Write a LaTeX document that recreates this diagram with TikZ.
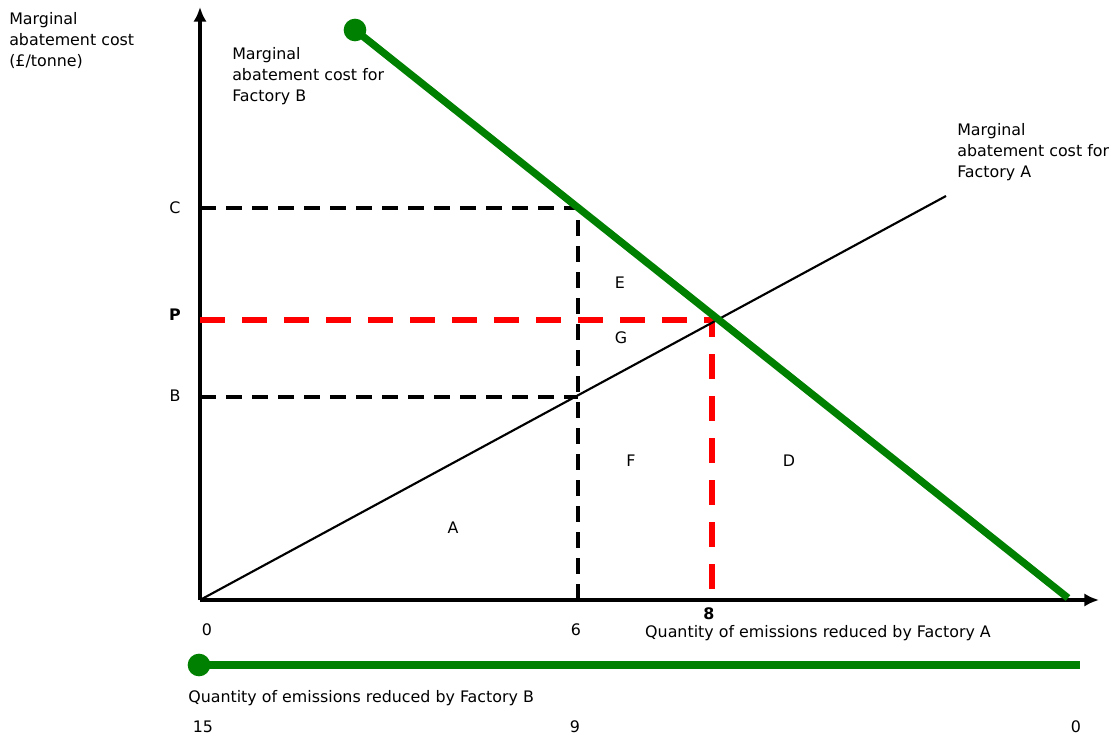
\documentclass[tikz,border=0pt]{standalone}
\usepackage{fontspec}
\setmainfont{DejaVu Sans}
\usetikzlibrary{arrows,arrows.meta,calc,positioning}
\definecolor{factgreen}{RGB}{0,128,0}
\tikzset{
        axis/.style = {draw, line width=3pt, -{Latex[length=11pt,width=10pt]}},
        macB/.style = {draw=factgreen, line width=5.5pt},
        macA/.style = {draw, line width=1.6pt},
        guide/.style = {draw, line width=2.6pt, dash pattern=on 12pt off 7.5pt},
        price/.style = {draw=red, line width=4pt, dash pattern=on 19pt off 12.5pt},
        lbl/.style = {font=\fontsize{11.9}{15.75}\selectfont, inner sep=0pt},
        note/.style = {lbl, align=left, anchor=north west},
        gdot/.style = {circle, fill=factgreen, minimum size=17pt, inner sep=0pt},
    }

\begin{document}
\begin{tikzpicture}[x=0.75pt,y=-0.75pt]
    \useasboundingbox (0,0) rectangle (1113,738);

    % axes
    \coordinate (o) at (200,600);
    \coordinate (ytop) at (200,7);
    \coordinate (xend) at (1099,600);
    \coordinate (c) at (200,208);
    \coordinate (p) at (200,320);
    \coordinate (b) at (200,397);
    \coordinate (c6) at (578,208);
    \coordinate (b6) at (578,397);
    \coordinate (x6) at (578,600);
    \coordinate (p8) at (712,320);
    \coordinate (x8) at (712,600);
    \coordinate (aend) at (946,196);
    \coordinate (bend) at (1068,598);
    \node[gdot] (btop) at (355,30) {};
    \node[gdot] (bleft) at (199,665) {};
    \coordinate (bright) at (1080,665);

    \draw[axis] (o) -- (ytop);
    \draw[axis] (o) -- (xend);

    % dashed guides
    \draw[guide] (c) -- (c6) -- (x6);
    \draw[guide] (b) -- (b6);
    \draw[price] (p) -- (p8) -- (x8);

    % marginal abatement cost curves
    \draw[macA] (o) -- (aend);
    \draw[macB] (btop.center) -- (bend);
    \draw[macB] (bleft.center) -- (bright);

    % axis labels
    \node[note] (ylab) at (9,12) {Marginal\\abatement cost\\(£/tonne)};
    \node[note] (labB) at (232,47) {Marginal\\abatement cost for\\Factory B};
    \node[note] (labA) at (957,123) {Marginal\\abatement cost for\\Factory A};
    \node[lbl] (lc) at (175,208) {C};
    \node[lbl, font=\fontsize{11.9}{15.75}\selectfont\bfseries] (lp) at (175,315) {P};
    \node[lbl] (lb) at (175,396) {B};

    % areas
    \node[lbl] (ae) at (620,283) {E};
    \node[lbl] (ag) at (621,338) {G};
    \node[lbl] (af) at (631,461) {F};
    \node[lbl] (ad) at (789,461) {D};
    \node[lbl] (aa) at (453,528) {A};

    % quantities
    \node[lbl] (q0) at (207,630) {0};
    \node[lbl] (q6) at (576,630) {6};
    \node[lbl, font=\fontsize{11.9}{15.75}\selectfont\bfseries] (q8) at (709,614) {8};
    \node[lbl] (qa) at (818,633) {Quantity of emissions reduced by Factory A};
    \node[lbl, anchor=west] (qb) at (188,698) {Quantity of emissions reduced by Factory B};
    \node[lbl] (r15) at (203,727) {15};
    \node[lbl] (r9) at (575,727) {9};
    \node[lbl] (r0) at (1076,727) {0};
\end{tikzpicture}
\end{document}
